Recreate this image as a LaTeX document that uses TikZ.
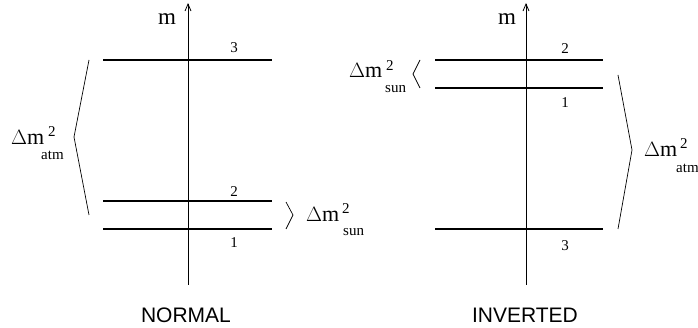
\documentclass[tikz,border=0pt]{standalone}
\usepackage{fontspec}
\setmainfont{Liberation Serif}
\newfontfamily\labsans{Liberation Sans}
\usetikzlibrary{arrows.meta}
\begin{document}
\begin{tikzpicture}[x=1pt,y=-1pt,
  level/.style={line width=2.4pt},
  axis/.style={line width=0.8pt,-{Straight Barb[length=7pt,width=6pt]}},
  brk/.style={line width=0.7pt},
  bigt/.style={font=\fontsize{22}{22}\selectfont,inner sep=0pt,anchor=base west},
  supt/.style={font=\fontsize{15}{15}\selectfont,inner sep=0pt,anchor=base west},
  digit/.style={font=\fontsize{15}{15}\selectfont,inner sep=0pt,anchor=center},
  axlab/.style={font=\fontsize{23}{23}\selectfont,inner sep=0pt,anchor=base},
  title/.style={font=\labsans\fontsize{21}{21}\selectfont,inner sep=0pt,anchor=base}]
\useasboundingbox (0,0) rectangle (698,328);
% ---------------- NORMAL ----------------
\coordinate (La0) at (188,285);
\coordinate (La1) at (188,3);
\draw[axis] (La0) -- (La1);
\node[axlab] (Lm) at (167,25) {m};
\coordinate (L3a) at (103,60);  \coordinate (L3b) at (272,60);
\coordinate (L2a) at (103,201); \coordinate (L2b) at (272,201);
\coordinate (L1a) at (103,229); \coordinate (L1b) at (272,229);
\draw[level] (L3a) -- (L3b);
\draw[level] (L2a) -- (L2b);
\draw[level] (L1a) -- (L1b);
\node[digit] (Ln3) at (234,48) {3};
\node[digit] (Ln2) at (234,192) {2};
\node[digit] (Ln1) at (234,243) {1};
% big bracket
\coordinate (Lb1) at (89,60); \coordinate (Lb2) at (74,137); \coordinate (Lb3) at (89,215);
\draw[brk] (Lb1) -- (Lb2) -- (Lb3);
\node[bigt] (LdA) at (11,145) {$\Delta$m};
\node[supt] (LdAs) at (48,137) {2};
\node[supt] (LdAb) at (41,160) {atm};
% small bracket
\coordinate (Ls1) at (286,202); \coordinate (Ls2) at (293,215); \coordinate (Ls3) at (286,229);
\draw[brk] (Ls1) -- (Ls2) -- (Ls3);
\node[bigt] (LdS) at (306,222) {$\Delta$m};
\node[supt] (LdSs) at (342,214) {2};
\node[supt] (LdSb) at (343,236) {sun};
\node[title] (Lt) at (186,322) {NORMAL};
% ---------------- INVERTED ----------------
\coordinate (Ra0) at (526,285);
\coordinate (Ra1) at (526,3);
\draw[axis] (Ra0) -- (Ra1);
\node[axlab] (Rm) at (507,25) {m};
\coordinate (R2a) at (435,60);  \coordinate (R2b) at (603,60);
\coordinate (R1a) at (435,88);  \coordinate (R1b) at (603,88);
\coordinate (R3a) at (435,229); \coordinate (R3b) at (603,229);
\draw[level] (R2a) -- (R2b);
\draw[level] (R1a) -- (R1b);
\draw[level] (R3a) -- (R3b);
\node[digit] (Rn2) at (565,49) {2};
\node[digit] (Rn1) at (565,103) {1};
\node[digit] (Rn3) at (565,246) {3};
% small bracket
\coordinate (Rs1) at (420,60); \coordinate (Rs2) at (413,74); \coordinate (Rs3) at (420,88);
\draw[brk] (Rs1) -- (Rs2) -- (Rs3);
\node[bigt] (RdS) at (349,78) {$\Delta$m};
\node[supt] (RdSs) at (386,71) {2};
\node[supt] (RdSb) at (385,93) {sun};
% big bracket
\coordinate (Rb1) at (618,75); \coordinate (Rb2) at (632,150); \coordinate (Rb3) at (618,229);
\draw[brk] (Rb1) -- (Rb2) -- (Rb3);
\node[bigt] (RdA) at (644,157) {$\Delta$m};
\node[supt] (RdAs) at (680,149) {2};
\node[supt] (RdAb) at (676,173) {atm};
\node[title] (Rt) at (525,322) {INVERTED};
\end{tikzpicture}
\end{document}
